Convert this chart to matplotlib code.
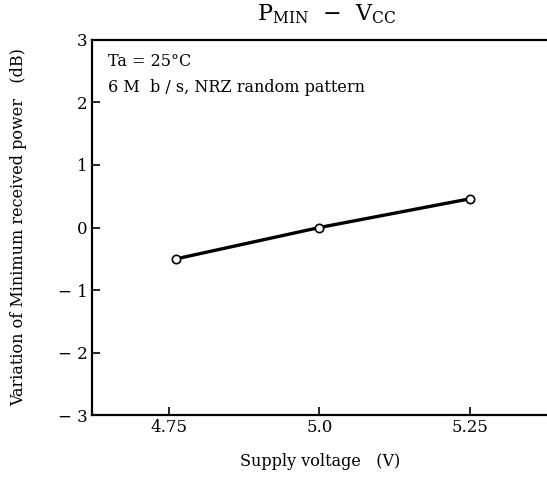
import matplotlib.pyplot as plt

# Supply voltage (V) vs variation of minimum received power (dB)
voltage = [4.763, 5.0, 5.25]
variation = [-0.5, 0.0, 0.46]

x_ticks = [4.75, 5.0, 5.25]
x_labels = ["4.75", "5.0", "5.25"]
y_ticks = [-3, -2, -1, 0, 1, 2, 3]
y_labels = ["\u2212 3", "\u2212 2", "\u2212 1", "0", "1", "2", "3"]

plt.rcParams["font.family"] = ["DejaVu Serif"]
plt.rcParams["mathtext.fontset"] = "dejavuserif"

fig = plt.figure(figsize=(5.47, 4.80), dpi=100)
ax = fig.add_axes([0.168, 0.135, 0.835, 0.782])

ax.plot(voltage, variation, color="black", linewidth=2.4,
        marker="o", markersize=6, markerfacecolor="white",
        markeredgecolor="black", markeredgewidth=1.2)

ax.set_xlim(4.623, 5.38)
ax.set_ylim(-3, 3)
ax.set_xticks(x_ticks)
ax.set_xticklabels(x_labels)
ax.set_yticks(y_ticks)
ax.set_yticklabels(y_labels)
ax.tick_params(direction="in", length=6, width=1.2, labelsize=12, colors="black", pad=3)

for side in ["left", "bottom", "top"]:
    ax.spines[side].set_linewidth(1.6)
ax.spines["right"].set_visible(False)

ax.set_xlabel("Supply voltage   (V)", fontsize=11.5, labelpad=12)
ax.set_ylabel("Variation of Minimum received power   (dB)", fontsize=11.5, labelpad=22)

ax.text(0.035, 0.965, "Ta = 25\u00b0C", transform=ax.transAxes, fontsize=11.5, va="top")
ax.text(0.035, 0.897, "6 M  b / s, NRZ random pattern", transform=ax.transAxes,
        fontsize=11.5, va="top")

fig.text(0.597, 0.958, "P$_{\\rm MIN}$  \u2212  V$_{\\rm CC}$", fontsize=16, ha="center")

fig.savefig("out.png", dpi=100)
